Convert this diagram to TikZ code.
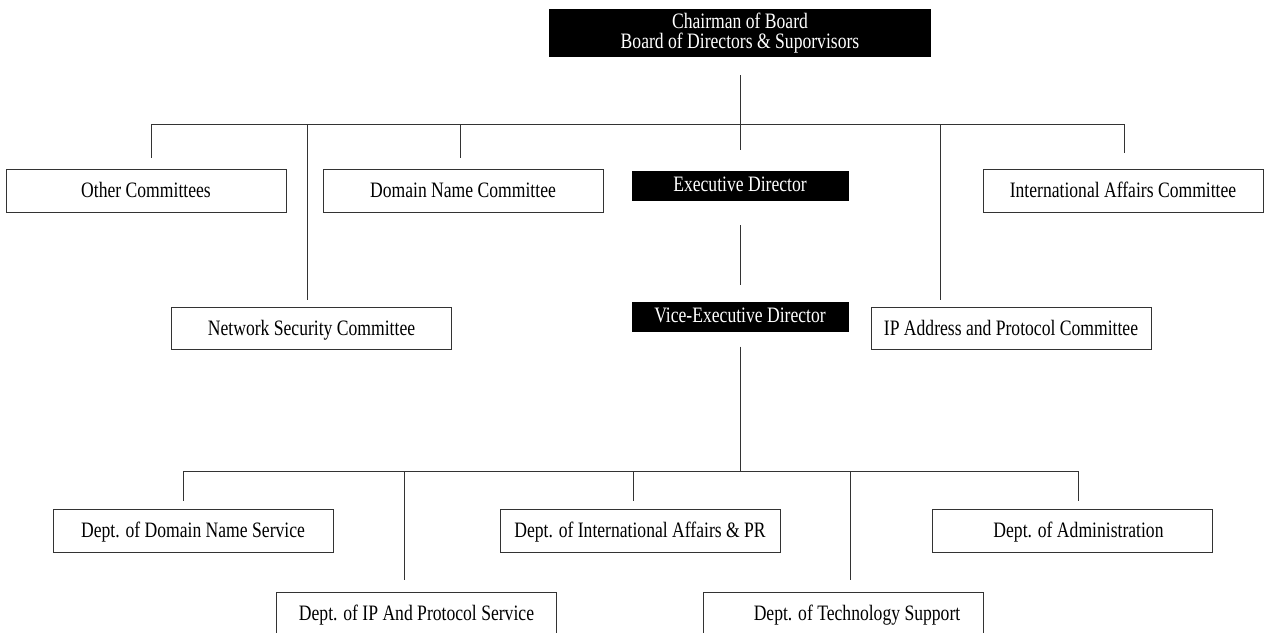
\documentclass[tikz,border=0pt]{standalone}
\usepackage{fontspec}
\setmainfont{Liberation Serif}[FakeStretch=0.8]
\usetikzlibrary{positioning}
\begin{document}
\begin{tikzpicture}[x=1pt, y=-1pt, node distance=101pt, font=\fontsize{22}{19.5}\selectfont]
    \tikzstyle{box} = [rectangle, draw=black!80, line width=0.9pt, fill=white, text centered, minimum width=280pt, minimum height=43pt, inner sep=0pt, text height=16pt, text depth=2pt]
    \tikzstyle{head} = [rectangle, fill=black, text=white, align=center, minimum width=217pt, minimum height=30pt, inner sep=0pt]
    \tikzstyle{link} = [draw=black!80, line width=0.9pt]

    \useasboundingbox (0,0) rectangle (1266,632);

    \node (chair) [head, minimum width=382pt, minimum height=48pt] at (740,33) {Chairman of Board\\Board of Directors \& Suporvisors};
    \node (exec) [head, text height=14pt, text depth=3pt] at (740,186) {Executive Director};
    \node (vice) [head, text height=14pt, text depth=3pt, below=of exec] {Vice-Executive Director};

    % committees
    \node (other) [box] at (146,190.5) {Other Committees};
    \node (domcom) [box] at (463,190.5) {Domain Name Committee};
    \node (intlcom) [box] at (1123,190.5) {International Affairs Committee};
    \node (netsec) [box, minimum height=42pt] at (311.5,328.5) {Network Security Committee};
    \node (ipcom) [box, minimum height=42pt] at (1011,328.5) {IP Address and Protocol Committee};

    % departments
    \node (dns) [box] at (193,530.5) {Dept. of Domain Name Service};
    \node (intlpr) [box] at (640,530.5) {Dept. of International Affairs \& PR};
    \node (admin) [box] at (1072.5,530.5) {\hspace*{12pt}Dept. of Administration};
    \node (ipsvc) [box, minimum height=42pt] at (416.5,613) {Dept. of IP And Protocol Service};
    \node (tech) [box, minimum height=42pt] at (843,613) {\hspace*{28pt}Dept. of Technology Support};

    % upper bus
    \coordinate (busA) at (151,124);
    \coordinate (busB) at (1124,124);
    \coordinate (tNet) at (307,124);
    \coordinate (tDom) at (460,124);
    \coordinate (tIp) at (940,124);
    \draw [link] (busA) -- (busB);
    \draw [link, shorten <=18pt, shorten >=21pt] (chair) -- (exec);
    \draw [link, shorten >=11pt] (busA) -- (busA |- other.north);
    \draw [link, shorten >=7pt] (tNet) -- (tNet |- netsec.north);
    \draw [link, shorten >=11pt] (tDom) -- (tDom |- domcom.north);
    \draw [link, shorten >=7pt] (tIp) -- (tIp |- ipcom.north);
    \draw [link, shorten >=16pt] (busB) -- (busB |- intlcom.north);
    \draw [link, shorten <=24pt, shorten >=17pt] (exec) -- (vice);

    % lower bus
    \coordinate (busC) at (183,471);
    \coordinate (busD) at (1078,471);
    \coordinate (tIpsvc) at (404,471);
    \coordinate (tIntl) at (633,471);
    \coordinate (tTech) at (850,471);
    \draw [link] (busC) -- (busD);
    \draw [link, shorten <=14pt] (vice) -- (vice |- busC);
    \draw [link, shorten >=8pt] (busC) -- (busC |- dns.north);
    \draw [link, shorten >=12pt] (tIpsvc) -- (tIpsvc |- ipsvc.north);
    \draw [link, shorten >=8pt] (tIntl) -- (tIntl |- intlpr.north);
    \draw [link, shorten >=12pt] (tTech) -- (tTech |- tech.north);
    \draw [link, shorten >=8pt] (busD) -- (busD |- admin.north);
\end{tikzpicture}
\end{document}
